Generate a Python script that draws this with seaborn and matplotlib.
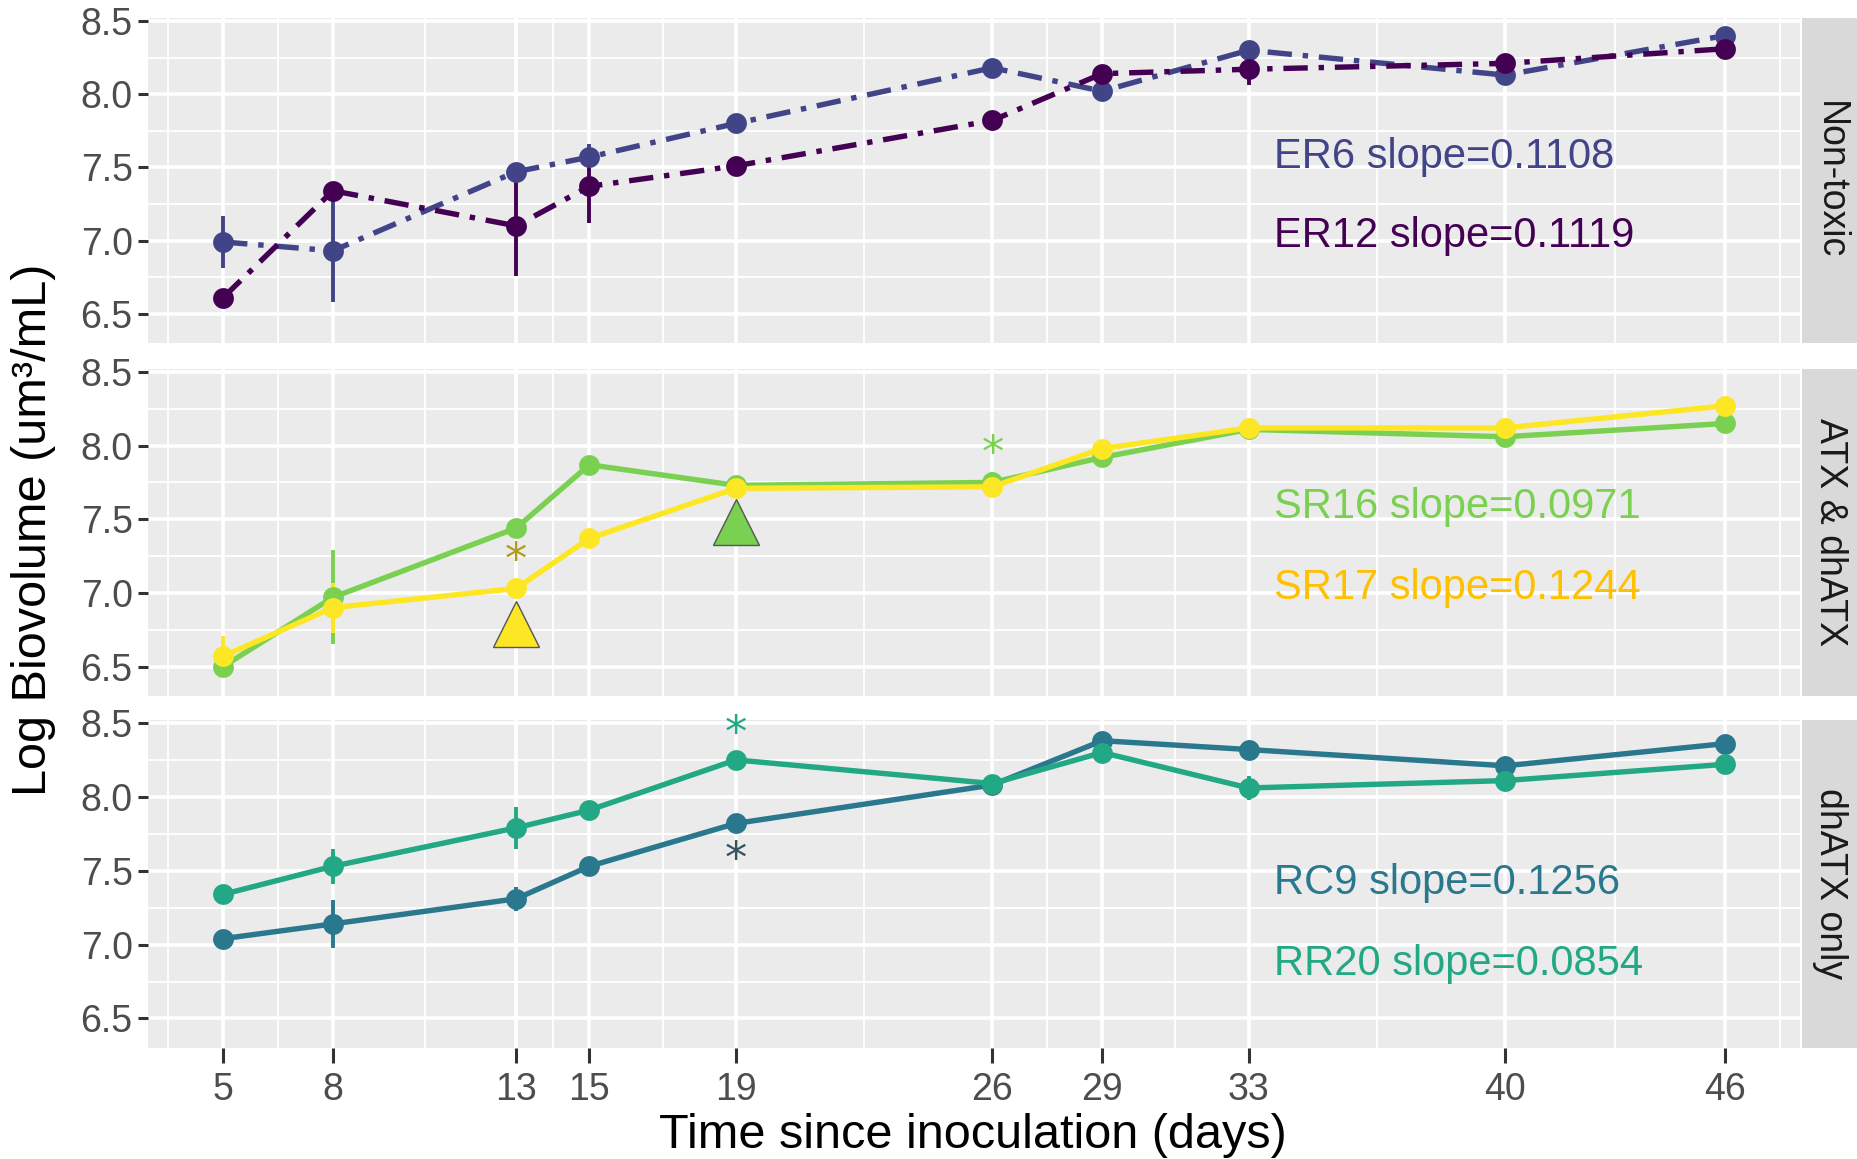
import matplotlib
matplotlib.use("Agg")
import matplotlib.pyplot as plt
import seaborn as sns
import pandas as pd
import numpy as np
from matplotlib import font_manager as fm

# ---------------- data ----------------
days = [5, 8, 13, 15, 19, 26, 29, 33, 40, 46]

er6 = [6.99, 6.93, 7.47, 7.57, 7.80, 8.18, 8.02, 8.30, 8.13, 8.40]
er6_err = [0.18, 0.35, 0.0, 0.09, 0.0, 0.0, 0.0, 0.03, 0.02, 0.02]
er12 = [6.61, 7.34, 7.10, 7.37, 7.51, 7.82, 8.14, 8.17, 8.21, 8.31]
er12_err = [0.0, 0.0, 0.34, 0.25, 0.02, 0.02, 0.04, 0.11, 0.03, 0.02]

sr16 = [6.50, 6.97, 7.44, 7.87, 7.73, 7.75, 7.92, 8.11, 8.06, 8.15]
sr16_err = [0.03, 0.32, 0.05, 0.02, 0.03, 0.07, 0.03, 0.03, 0.03, 0.02]
sr17 = [6.57, 6.90, 7.03, 7.37, 7.71, 7.72, 7.98, 8.12, 8.12, 8.27]
sr17_err = [0.14, 0.17, 0.02, 0.02, 0.02, 0.04, 0.04, 0.03, 0.03, 0.03]

rc9 = [7.04, 7.14, 7.31, 7.53, 7.82, 8.08, 8.38, 8.32, 8.21, 8.36]
rc9_err = [0.02, 0.16, 0.08, 0.03, 0.03, 0.06, 0.05, 0.03, 0.04, 0.03]
rr20 = [7.34, 7.53, 7.79, 7.91, 8.25, 8.09, 8.30, 8.06, 8.11, 8.22]
rr20_err = [0.02, 0.12, 0.14, 0.02, 0.02, 0.05, 0.03, 0.08, 0.06, 0.02]

panels = ["Non-toxic", "ATX & dhATX", "dhATX only"]
panel_series = [["ER6", "ER12"], ["SR16", "SR17"], ["RC9", "RR20"]]
series_vals = {"ER6": er6, "ER12": er12, "SR16": sr16, "SR17": sr17, "RC9": rc9, "RR20": rr20}
series_err = {"ER6": er6_err, "ER12": er12_err, "SR16": sr16_err, "SR17": sr17_err,
              "RC9": rc9_err, "RR20": rr20_err}
colors = {"ER6": "#414487", "ER12": "#440154", "SR16": "#7AD151", "SR17": "#FDE725",
          "RC9": "#2A788E", "RR20": "#22A884"}
label_colors = {"ER6": "#414487", "ER12": "#440154", "SR16": "#7AD151", "SR17": "#FFC000",
                "RC9": "#2A788E", "RR20": "#22A884"}
slopes = {"ER6": "0.1108", "ER12": "0.1119", "SR16": "0.0971", "SR17": "0.1244",
          "RC9": "0.1256", "RR20": "0.0854"}
label_y = {"ER6": 7.57, "ER12": 7.03, "SR16": 7.58, "SR17": 7.03, "RC9": 7.42, "RR20": 6.87}
label_x = 33.7

# annotations: (panel index, day, y, color)
stars = [(1, 13, 7.21, "#B39C1A"), (1, 26, 7.94, "#7AD151"),
         (2, 19, 8.42, "#22A884"), (2, 19, 7.57, "#33545A")]
triangles = [(1, 13, 6.79, "#FDE725"), (1, 19, 7.48, "#7AD151")]

yticks = [6.5, 7.0, 7.5, 8.0, 8.5]
yminor = [6.75, 7.25, 7.75, 8.25]
xminor = [3.5, 6.5, 10.5, 14, 17, 22.5, 27.5, 31, 36.5, 43, 47.5]

# ---------------- fonts ----------------
names = {f.name for f in fm.fontManager.ttflist}
narrow = "Liberation Sans Narrow" if "Liberation Sans Narrow" in names else "Liberation Sans"

sns.set_theme(style="darkgrid")
plt.rcParams["font.family"] = [narrow, "DejaVu Sans"]

fig = plt.figure(figsize=(18.57, 11.59), dpi=100)
L, R = 148 / 1857, 1800 / 1857
boxes = [(18, 343), (369, 696), (720, 1048)]
strip_w = 55 / 1857

for i, (top, bot) in enumerate(boxes):
    b = 1 - bot / 1159
    h = (bot - top) / 1159
    ax = fig.add_axes([L, b, R - L, h])
    ax.set_facecolor("#EBEBEB")
    rows = []
    for s in panel_series[i]:
        for d, v in zip(days, series_vals[s]):
            rows.append({"day": d, "val": v, "series": s})
    df = pd.DataFrame(rows)
    # error bars
    for s in panel_series[i]:
        e = np.array(series_err[s])
        ax.vlines(days, np.array(series_vals[s]) - e, np.array(series_vals[s]) + e,
                  color=colors[s], lw=2.8, zorder=3)
    sns.lineplot(data=df, x="day", y="val", hue="series", hue_order=panel_series[i],
                 palette=colors, marker="o", markersize=15, markeredgewidth=0,
                 lw=3.9, legend=False, ax=ax, zorder=4, estimator=None)
    if i == 0:
        for ln in ax.get_lines():
            ln.set_dashes([4.5, 2.0, 1.0, 2.0])
            ln.set_dash_capstyle("butt")
    for s in panel_series[i]:
        ax.text(label_x, label_y[s], f"{s} slope={slopes[s]}", color=label_colors[s],
                fontsize=30, ha="left", va="center", family=[narrow, "DejaVu Sans"])
    for (pi, d, y, c) in stars:
        if pi == i:
            ax.text(d, y, "*", color=c, fontsize=32, ha="center", va="center",
                    family="DejaVu Sans")
    for (pi, d, y, c) in triangles:
        if pi == i:
            ax.plot([d], [y], marker="^", markersize=33, color=c,
                    markeredgecolor="#555555", markeredgewidth=1.0, zorder=5)

    ax.set_xlim(2.95, 48.05)
    ax.set_ylim(6.30, 8.52)
    ax.set_xticks(days)
    ax.set_xticks(xminor, minor=True)
    ax.set_yticks(yticks)
    ax.set_yticks(yminor, minor=True)
    ax.set_yticklabels([f"{t:.1f}" for t in yticks])
    ax.grid(which="major", color="white", lw=2.6)
    ax.grid(which="minor", color="white", lw=1.3)
    ax.set_axisbelow(True)
    for sp in ax.spines.values():
        sp.set_visible(False)
    ax.tick_params(axis="y", which="major", length=7, width=2.2, color="#333333",
                   labelsize=27, labelcolor="#4D4D4D", pad=4, left=True)
    ax.tick_params(which="minor", length=0)
    ax.set_xlabel("")
    ax.set_ylabel("")
    if i == 2:
        ax.tick_params(axis="x", which="major", length=11, width=2.2, color="#333333",
                       labelsize=27, labelcolor="#4D4D4D", pad=6, bottom=True)
    else:
        ax.tick_params(axis="x", which="major", length=0, labelbottom=False)
    # strip
    sax = fig.add_axes([R + 2 / 1857, b, strip_w, h])
    sax.set_facecolor("#D9D9D9")
    sax.set_xticks([])
    sax.set_yticks([])
    for sp in sax.spines.values():
        sp.set_visible(False)
    sax.text(0.5, 0.5, panels[i], rotation=-90, ha="center", va="center",
             fontsize=27, color="#1A1A1A", family=["Liberation Sans", "DejaVu Sans"],
             transform=sax.transAxes)

fig.text(34 / 1857, 1 - 530 / 1159, "Log Biovolume (um\u00b3/mL)", rotation=90,
         ha="center", va="center", fontsize=35, color="black")
fig.text(973 / 1857, 1 - 1135 / 1159, "Time since inoculation (days)",
         ha="center", va="center", fontsize=35, color="black")

fig.savefig("out.png", dpi=100, facecolor="white")
